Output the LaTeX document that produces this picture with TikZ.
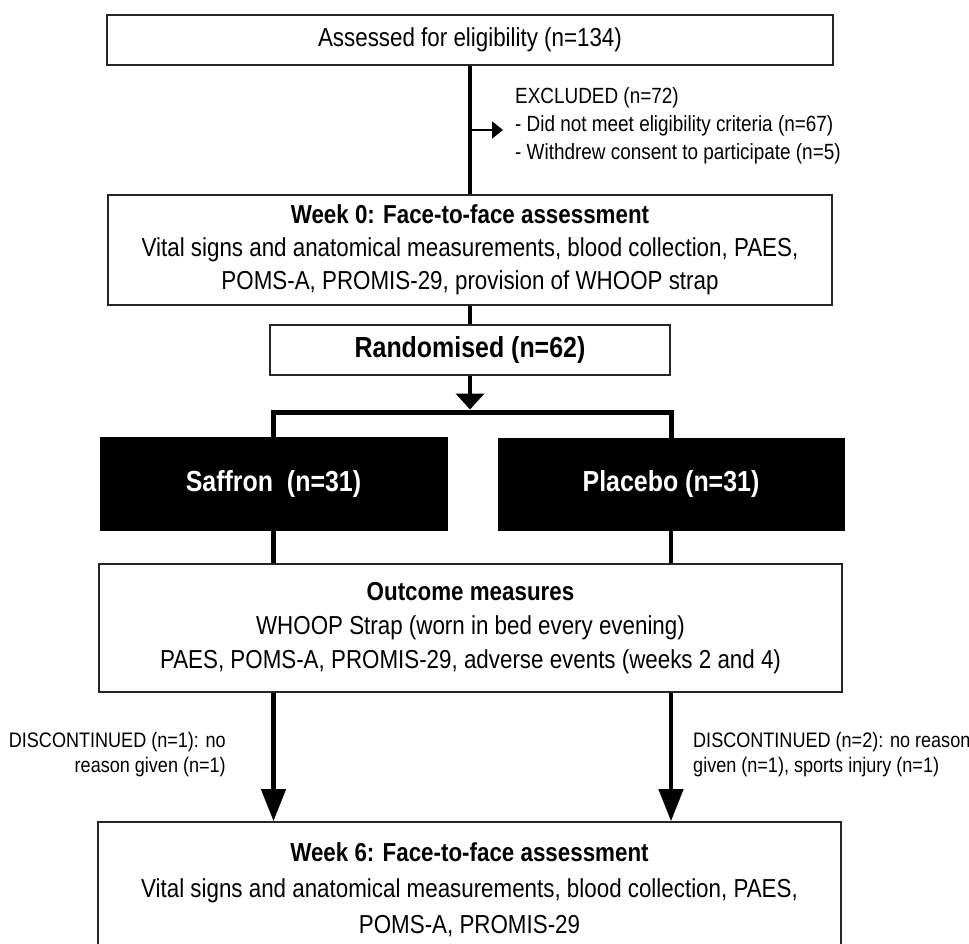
\documentclass[tikz,border=0pt]{standalone}
\usepackage{fontspec}
\setmainfont{Liberation Sans}[FakeStretch=0.86]
\usetikzlibrary{arrows.meta}
\begin{document}
\begin{tikzpicture}[x=1pt,y=-1pt,
  box/.style={draw=black!85, line width=1.6pt, rectangle, align=center, inner sep=0pt, font=\fontsize{26}{33}\selectfont},
  darkbox/.style={fill=black, draw=black, text=white, rectangle, inner sep=0pt, font=\bfseries\fontsize{29}{34}\selectfont},
  conn/.style={line width=4.5pt, line join=miter},
  note/.style={inner sep=0pt, font=\fontsize{21}{25}\selectfont}]
\useasboundingbox (0,0) rectangle (969,943);
\clip (0,0) rectangle (969,943);

% boxes
\node[box, minimum width=726pt, minimum height=50pt] (top) at (470,40) {Assessed for eligibility (n=134)};
\node[box, minimum width=724pt, minimum height=110pt] (wk0) at (470,250)
  {\textbf{Week 0: Face-to-face assessment}\\Vital signs and anatomical measurements, blood collection, PAES,\\POMS-A, PROMIS-29, provision of WHOOP strap};
\node[box, font=\bfseries\fontsize{29}{34}\selectfont, minimum width=400pt, minimum height=50pt] (rand) at (470,350) {Randomised (n=62)};
\node[darkbox, minimum width=347pt, minimum height=93pt] (saff) at (273.5,483.5) {Saffron\ \ (n=31)};
\node[darkbox, minimum width=346pt, minimum height=92pt] (plac) at (671,484) {Placebo (n=31)};
\node[box, font=\fontsize{26}{34}\selectfont, minimum width=743pt, minimum height=128pt] (outc) at (470.5,628)
  {\textbf{Outcome measures}\\WHOOP Strap (worn in bed every evening)\\PAES, POMS-A, PROMIS-29, adverse events (weeks 2 and 4)};
\node[box, font=\fontsize{26}{36}\selectfont, minimum width=743pt, minimum height=135pt] (wk6) at (469.5,889.5)
  {\textbf{Week 6: Face-to-face assessment}\\Vital signs and anatomical measurements, blood collection, PAES,\\POMS-A, PROMIS-29};

% excluded
\node[align=left, anchor=west, inner xsep=12pt, inner ysep=0pt, font=\fontsize{22}{28}\selectfont] (exl) at (503,126)
  {EXCLUDED (n=72)\\- Did not meet eligibility criteria (n=67)\\- Withdrew consent to participate (n=5)};

% discontinued notes
\node[note, align=right, anchor=east] (dl) at (226,755) {DISCONTINUED (n=1): no\\reason given (n=1)};
\node[note, align=left, anchor=west] (dr) at (693,755) {DISCONTINUED (n=2): no reason\\given (n=1), sports injury (n=1)};

% connectors
\draw[conn] (top.south) -- (wk0.north);
\draw[conn] (wk0.south) -- (rand.north);
\coordinate (exa) at (470,130);
\draw[line width=2pt, -{Triangle[length=11pt,width=17pt]}] (exa) -- (exa -| exl.west);
\coordinate (split) at (470,412);
\draw[conn, shorten >=2.5pt, -{Triangle[length=16pt,width=28pt]}] (rand.south) -- (split);
\draw[line width=5pt, line join=miter] (saff.north) |- (split) -| (plac.north);
\draw[conn] (saff.south) -- (saff.south |- outc.north);
\draw[conn] (plac.south) -- (plac.south |- outc.north);
\draw[conn, -{Triangle[length=32pt,width=24pt]}] (outc.south -| saff.south) -- (wk6.north -| saff.south);
\draw[conn, -{Triangle[length=32pt,width=24pt]}] (outc.south -| plac.south) -- (wk6.north -| plac.south);
\end{tikzpicture}
\end{document}
